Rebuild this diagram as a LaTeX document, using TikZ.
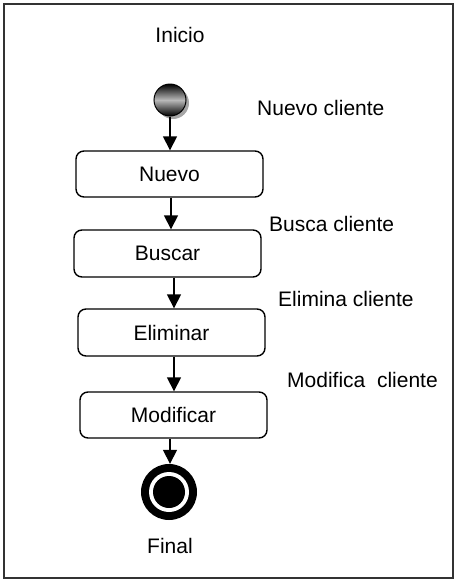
\documentclass[tikz,border=0pt]{standalone}
\usepackage{fontspec}
\setmainfont{Liberation Sans}
\usetikzlibrary{arrows.meta,shadows}
\begin{document}
\begin{tikzpicture}[x=1pt,y=1pt,
  txt/.style={font=\fontsize{21}{25}\selectfont, inner sep=0pt},
  act/.style={draw, line width=1.4pt, rounded corners=8pt, minimum width=187pt, minimum height=46pt, inner sep=0pt, font=\fontsize{21}{25}\selectfont},
  arr/.style={line width=1.6pt, -{Triangle[width=14pt,length=14pt]}}]
\useasboundingbox (0,0) rectangle (458,-584);
\draw[line width=1.3pt, black!80] (4,-4) rectangle (453,-578);
\node[txt] (inicio) at (180,-35) {Inicio};
\node[circle, draw, line width=1pt, minimum size=32pt, inner sep=0pt,
  top color=black, bottom color=black, middle color=gray!55,
  drop shadow={shadow xshift=3pt, shadow yshift=-3pt, fill=gray!70, opacity=1}] (start) at (170,-100) {};
\node[txt, anchor=west] (lnuevo) at (257,-108) {Nuevo cliente};
\node[act] (nuevo) at (169.5,-174) {Nuevo};
\node[txt, anchor=west] (lbusca) at (269,-224) {Busca cliente};
\node[act, minimum height=47pt] (buscar) at (167.5,-253.5) {Buscar};
\node[txt, anchor=west] (lelimina) at (278,-299) {Elimina cliente};
\node[act, minimum height=47pt] (eliminar) at (171.5,-332.5) {Eliminar};
\node[txt, anchor=west] (lmodifica) at (287,-380) {Modifica\ \ cliente};
\node[act] (modificar) at (173.5,-415) {Modificar};
\node[circle, fill=black, minimum size=56pt, inner sep=0pt] (final) at (169,-492) {};
\fill[white] (final.center) circle (20pt);
\fill[black] (final.center) circle (16pt);
\node[txt] (lfinal) at (170,-546) {Final};
\draw[arr] (start.south) -- (start.south |- nuevo.north);
\draw[arr] (nuevo.south -| 171,0) -- (buscar.north -| 171,0);
\draw[arr] (buscar.south -| 174,0) -- (eliminar.north -| 174,0);
\draw[arr] (eliminar.south -| 174,0) -- (modificar.north -| 174,0);
\draw[arr] (modificar.south -| 170,0) -- (final.north -| 170,0);
\end{tikzpicture}
\end{document}
